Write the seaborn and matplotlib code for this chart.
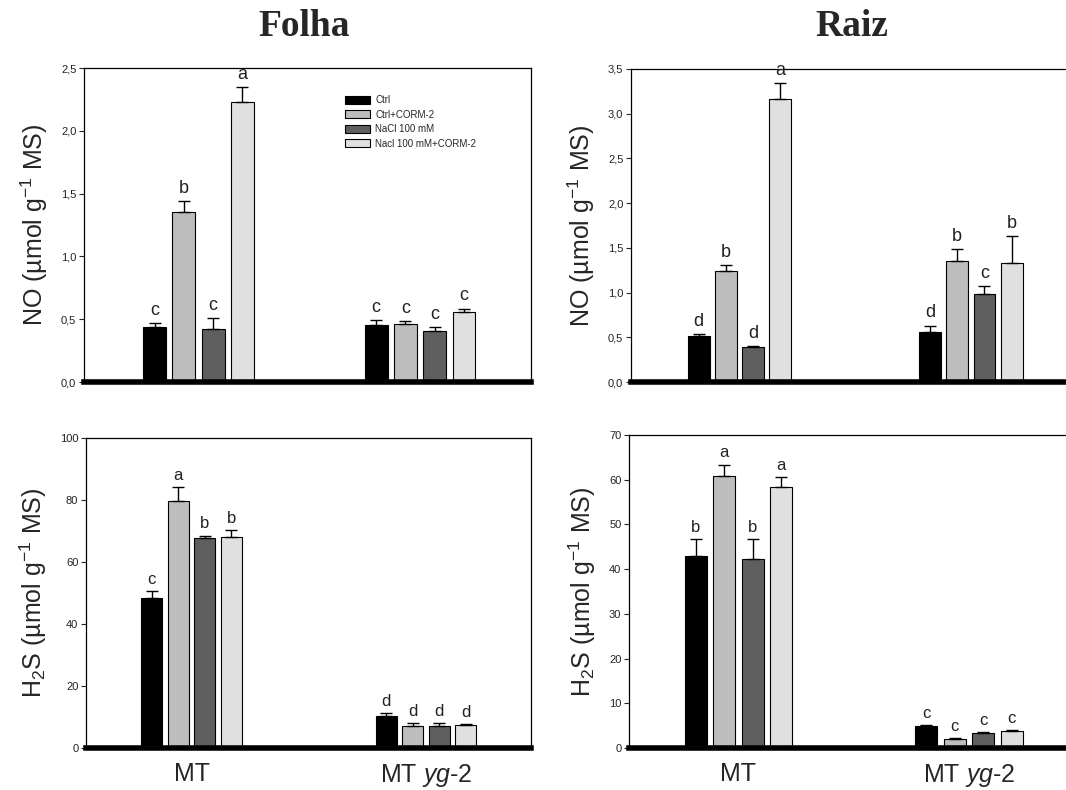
import numpy as np
import pandas as pd
import matplotlib
matplotlib.use("Agg")
import matplotlib.pyplot as plt
import seaborn as sns
from matplotlib.ticker import FuncFormatter, MultipleLocator

genotypes = ["MT", "MT yg-2"]
treatments = ["Ctrl", "Ctrl+CORM-2", "NaCl 100 mM", "Nacl 100 mM+CORM-2"]
colors = ["#000000", "#bdbdbd", "#5f5f5f", "#e0e0e0"]

# values per genotype (MT, MT yg-2), in treatment order
no_folha = [[0.44, 1.35, 0.42, 2.23], [0.45, 0.46, 0.41, 0.56]]
no_folha_err = [[0.03, 0.09, 0.09, 0.115], [0.04, 0.025, 0.025, 0.025]]
no_folha_let = [["c", "b", "c", "a"], ["c", "c", "c", "c"]]

no_raiz = [[0.51, 1.24, 0.39, 3.17], [0.56, 1.35, 0.98, 1.33]]
no_raiz_err = [[0.025, 0.07, 0.01, 0.17], [0.07, 0.14, 0.09, 0.30]]
no_raiz_let = [["d", "b", "d", "a"], ["d", "b", "c", "b"]]

h2s_folha = [[48.5, 79.7, 67.7, 68.2], [10.3, 7.0, 7.0, 7.4]]
h2s_folha_err = [[2.2, 4.6, 0.8, 2.1], [1.0, 1.0, 1.1, 0.3]]
h2s_folha_let = [["c", "a", "b", "b"], ["d", "d", "d", "d"]]

h2s_raiz = [[43.0, 60.8, 42.2, 58.4], [4.9, 2.0, 3.4, 3.7]]
h2s_raiz_err = [[3.8, 2.6, 4.6, 2.2], [0.3, 0.2, 0.2, 0.25]]
h2s_raiz_let = [["b", "a", "b", "a"], ["c", "c", "c", "c"]]

sns.set_theme(style="ticks")
plt.rcParams["font.family"] = ["Liberation Sans", "DejaVu Sans"]
plt.rcParams["mathtext.fontset"] = "custom"
plt.rcParams["mathtext.rm"] = "Liberation Sans"
plt.rcParams["mathtext.it"] = "Liberation Sans:italic"

W, H = 1066, 790
fig = plt.figure(figsize=(W / 100, H / 100), dpi=100)


def box(l, t, r, b):
    return [l / W, 1 - b / H, (r - l) / W, (b - t) / H]


panels = [
    # values, errors, letters, ylim, step, decimals, box, xlim, width, gap, ylabel, letter size
    (no_folha, no_folha_err, no_folha_let, 2.5, 0.5, True, box(84, 68, 531, 382),
     (-0.517, 1.501), 0.529, 0.22, "NO (µmol g$^{-1}$ MS)", 13),
    (no_raiz, no_raiz_err, no_raiz_let, 3.5, 0.5, True, box(631, 69, 1075, 382),
     (-0.469, 1.45), 0.47, 0.2, "NO (µmol g$^{-1}$ MS)", 13),
    (h2s_folha, h2s_folha_err, h2s_folha_let, 100, 20, False, box(86, 438, 531, 748),
     (-0.45, 1.448), 0.453, 0.2, "H$_2$S (µmol g$^{-1}$ MS)", 12),
    (h2s_raiz, h2s_raiz_err, h2s_raiz_let, 70, 10, False, box(629, 435, 1075, 748),
     (-0.475, 1.46), 0.496, 0.225, "H$_2$S (µmol g$^{-1}$ MS)", 12),
]

for i, (vals, errs, lets, ytop, step, comma, rect, xlim, width, gap, ylab, lsize) in enumerate(panels):
    ax = fig.add_axes(rect)
    df = pd.DataFrame([
        {"genotype": g, "treatment": t, "value": vals[gi][ti]}
        for gi, g in enumerate(genotypes) for ti, t in enumerate(treatments)
    ])
    sns.barplot(data=df, x="genotype", y="value", hue="treatment",
                hue_order=treatments, order=genotypes, palette=colors,
                width=width, gap=gap, edgecolor="black", linewidth=0.8,
                errorbar=None, ax=ax)

    bar_containers = list(ax.containers)
    for ti, cont in enumerate(bar_containers):
        for gi, bar in enumerate(cont.patches):
            x = bar.get_x() + bar.get_width() / 2
            top = bar.get_height()
            e = errs[gi][ti]
            ax.errorbar(x, top, yerr=[[0], [e]], fmt="none", ecolor="black",
                        elinewidth=1, capsize=4.5, capthick=1, zorder=1)
            ax.annotate(lets[gi][ti], (x, top + e), xytext=(0, 3),
                        textcoords="offset points", ha="center", va="bottom",
                        fontsize=lsize, color="#222222")

    ax.set_xlim(*xlim)
    ax.set_ylim(0, ytop)
    ax.yaxis.set_major_locator(MultipleLocator(step))
    if comma:
        ax.yaxis.set_major_formatter(FuncFormatter(lambda v, p: f"{v:.1f}".replace(".", ",")))
    else:
        ax.yaxis.set_major_formatter(FuncFormatter(lambda v, p: f"{v:.0f}"))
    ax.tick_params(axis="y", labelsize=8, labelcolor="#222222", length=3.5, width=0.8,
                   direction="out", pad=2)
    ax.tick_params(axis="x", length=0, labelsize=18, pad=10)
    ax.set_xlabel("")
    ax.set_ylabel(ylab, fontsize=18, labelpad=8)
    for s in ["left", "top", "right"]:
        ax.spines[s].set_visible(True)
        ax.spines[s].set_linewidth(0.9)
        ax.spines[s].set_color("black")
    ax.spines["bottom"].set_linewidth(4)
    ax.spines["bottom"].set_color("black")

    if i < 2:
        ax.set_xticklabels([])
    else:
        ax.set_xticks([0, 1])
        ax.set_xticklabels(["MT", r"MT $\mathit{yg}$-$\mathit{2}$"])

    if i == 0:
        handles, labels = ax.get_legend_handles_labels()
        ax.legend(handles, labels, loc="upper left", bbox_to_anchor=(0.575, 0.925),
                  frameon=False, fontsize=7, handlelength=2.6, handleheight=0.9,
                  labelspacing=0.45, handletextpad=0.5, borderaxespad=0)
    else:
        leg = ax.get_legend()
        if leg is not None:
            leg.remove()

fig.text(304 / W, 1 - 26 / H, "Folha", ha="center", va="center", fontsize=27,
         fontweight="bold", family="Liberation Serif")
fig.text(852 / W, 1 - 26 / H, "Raiz", ha="center", va="center", fontsize=27,
         fontweight="bold", family="Liberation Serif")

fig.savefig("out.png", dpi=100)
